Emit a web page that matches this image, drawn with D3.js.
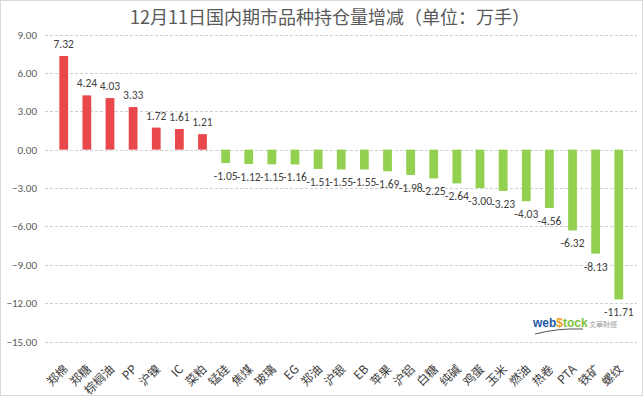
<!DOCTYPE html>
<html>
<head>
<meta charset="utf-8">
<script src="https://cdn.jsdelivr.net/npm/d3@7"></script>
<style>
  body { margin: 0; background: #fff; }
  text { font-family: "Microsoft YaHei", "Noto Sans CJK SC", sans-serif; }
</style>
</head>
<body>
<div id="chart"></div>
<script>
const categories = ['郑棉', '郑糖', '棕榈油', 'PP', '沪镍', 'IC', '菜粕', '锰硅', '焦煤', '玻璃', 'EG', '郑油', '沪银', 'EB', '苹果', '沪铝', '白糖', '纯碱', '鸡蛋', '玉米', '燃油', '热卷', 'PTA', '铁矿', '螺纹'];
const values = [7.32, 4.24, 4.03, 3.33, 1.72, 1.61, 1.21, -1.05, -1.12, -1.15, -1.16, -1.51, -1.55, -1.55, -1.69, -1.98, -2.25, -2.64, -3.00, -3.23, -4.03, -4.56, -6.32, -8.13, -11.71];
const yTicks = [9, 6, 3, 0, -3, -6, -9, -12, -15];
const title = '12月11日国内期市品种持仓量增减（单位：万手）';

const data = categories.map((c, i) => ({ name: c, value: values[i] }));

const width = 644, height = 398;

const svg = d3.select('#chart').append('svg')
  .attr('width', width)
  .attr('height', height);

svg.append('rect')
  .attr('x', 0.5).attr('y', 0.5)
  .attr('width', 642).attr('height', 395)
  .attr('fill', '#fff')
  .attr('stroke', '#d9d9d9');

const x = d3.scaleBand().domain(categories).range([45, 637.5]).padding(0.62);
const y = d3.scaleLinear().domain([-15, 9]).range([341.5, 34.5]);

// grid
svg.append('g')
  .selectAll('line')
  .data(yTicks)
  .join('line')
  .attr('x1', 45).attr('x2', 637)
  .attr('y1', d => Math.round(y(d)) + 0.5)
  .attr('y2', d => Math.round(y(d)) + 0.5)
  .attr('stroke', '#d0d0d0')
  .attr('stroke-dasharray', '3,2');

// y axis labels
const yAxis = svg.append('g')
  .attr('transform', 'translate(39,0)')
  .call(d3.axisLeft(y).tickValues(yTicks).tickFormat(d3.format('.2f')).tickSize(0).tickPadding(2));
yAxis.select('.domain').remove();
yAxis.selectAll('text')
  .attr('fill', '#595959')
  .style('font-size', '11px')
  .style('font-family', 'Calibri, Carlito, "Liberation Sans", sans-serif');

// bars
svg.append('g')
  .selectAll('rect')
  .data(data)
  .join('rect')
  .attr('x', d => x(d.name))
  .attr('width', x.bandwidth())
  .attr('y', d => y(Math.max(0, d.value)))
  .attr('height', d => Math.abs(y(d.value) - y(0)))
  .attr('fill', d => d.value >= 0 ? '#e8474c' : '#92d050');

// value labels
svg.append('g')
  .selectAll('text')
  .data(data)
  .join('text')
  .attr('x', d => x(d.name) + x.bandwidth() / 2)
  .attr('y', d => d.value >= 0 ? y(d.value) - 8 : y(d.value) + 17)
  .attr('text-anchor', 'middle')
  .attr('fill', '#404040')
  .style('font-size', '11.5px')
  .style('font-family', 'Calibri, Carlito, "Liberation Sans", sans-serif')
  .text(d => d.value.toFixed(2));

// x labels
svg.append('g')
  .selectAll('text')
  .data(categories)
  .join('text')
  .attr('transform', d => `translate(${x(d) + x.bandwidth() / 2 + 1},366) rotate(-45)`)
  .attr('text-anchor', 'end')
  .attr('dominant-baseline', 'central')
  .attr('fill', '#404040')
  .style('font-size', '12px')
  .text(d => d);

// title
svg.append('text')
  .attr('x', 330).attr('y', 24)
  .attr('text-anchor', 'middle')
  .attr('fill', '#595959')
  .style('font-size', '18px')
  .text(title);

// logo
const logo = svg.append('g').attr('transform', 'translate(533,327)');
const lt = logo.append('text')
  .style('font-family', '"Liberation Sans", Arial, sans-serif')
  .style('font-size', '12px')
  .style('font-weight', 'bold');
lt.append('tspan').attr('fill', '#1f5aa6').text('web');
lt.append('tspan').attr('fill', '#f0a020').text('$');
lt.append('tspan').attr('fill', '#7cbf3a').text('tock');
logo.append('text')
  .attr('x', 56).attr('y', 0)
  .attr('fill', '#a0a0a0')
  .style('font-size', '7px')
  .text('文華財經');
logo.append('path')
  .attr('d', 'M2,7 Q25,1 50,2')
  .attr('fill', 'none')
  .attr('stroke', '#555')
  .attr('stroke-width', 1);
</script>
</body>
</html>
